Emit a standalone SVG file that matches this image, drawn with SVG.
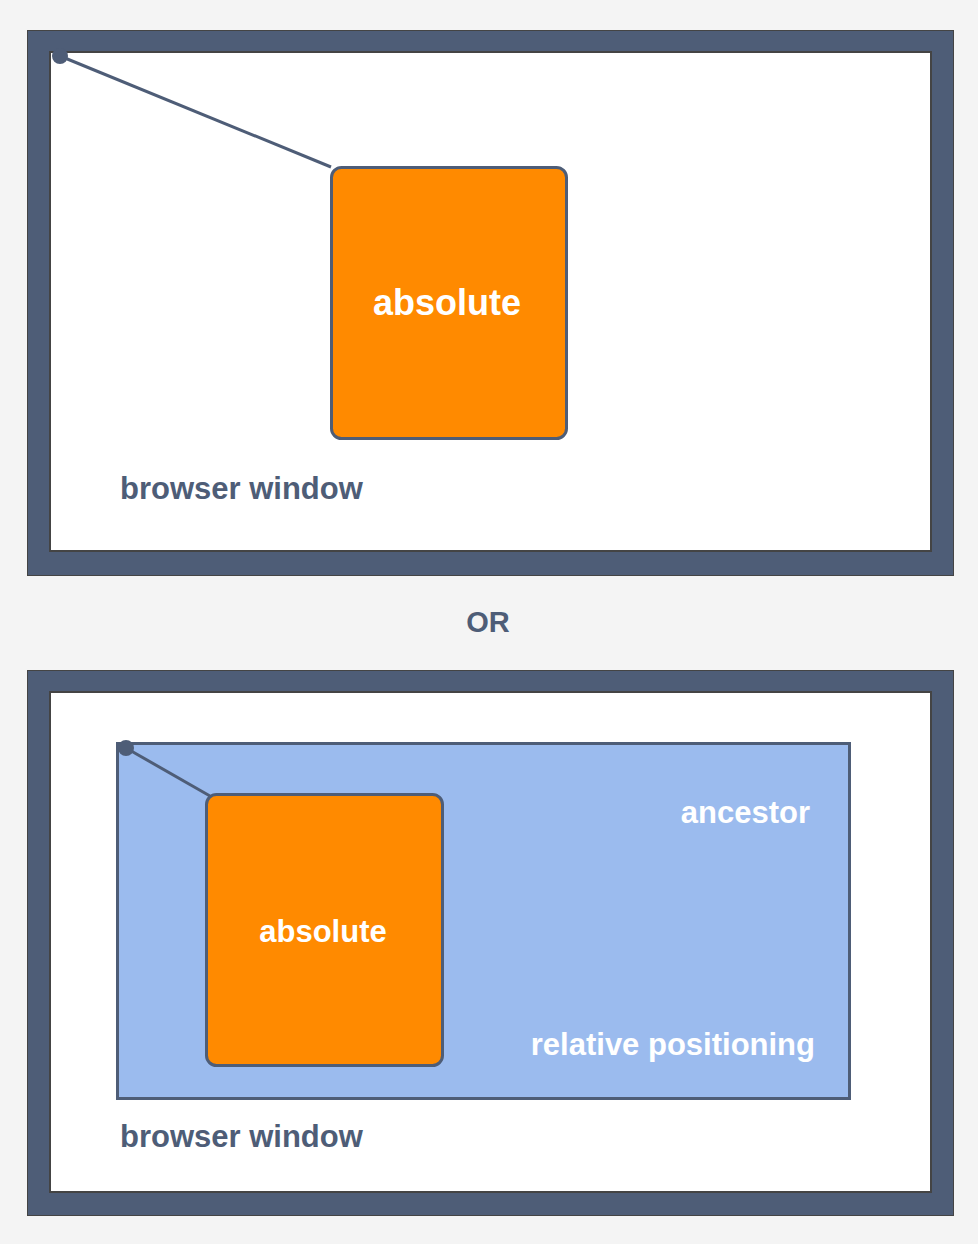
<svg xmlns="http://www.w3.org/2000/svg" width="978" height="1244" viewBox="0 0 978 1244">
<style>
.frame{fill:#4e5d77;stroke:#444;stroke-width:1}
.inner{fill:#fff;stroke:#444;stroke-width:2}
.abs{fill:#ff8a00;stroke:#4e5d77;stroke-width:3}
.anc{fill:#9bbbee;stroke:#4e5d77;stroke-width:3}
.conn{stroke:#4e5d77;stroke-width:3;fill:none}
.dot{fill:#4e5d77}
text{font-family:"Liberation Sans",Arial,sans-serif;font-weight:bold}
.wt{fill:#fff}
.dk{fill:#4e5d77}
</style>
<rect width="978" height="1244" fill="#f4f4f4"/>
<g id="window1">
<rect class="frame" x="27.5" y="30.5" width="926" height="545"/>
<rect class="inner" x="50" y="52" width="881" height="499"/>
<text class="dk" x="120" y="499" font-size="31">browser window</text>
</g>
<g id="absolute1">
<rect class="abs" x="331.5" y="167.5" width="235" height="271" rx="10"/>
<text class="wt" x="447" y="315" font-size="36" text-anchor="middle">absolute</text>
</g>
<g id="or">
<text class="dk" x="488" y="632" font-size="29" text-anchor="middle">OR</text>
</g>
<g id="window2">
<rect class="frame" x="27.5" y="670.5" width="926" height="545"/>
<rect class="inner" x="50" y="692" width="881" height="500"/>
<text class="dk" x="120" y="1147" font-size="31">browser window</text>
</g>
<g id="ancestor">
<rect class="anc" x="117.5" y="743.5" width="732" height="355"/>
<text class="wt" x="810" y="823" font-size="31" text-anchor="end">ancestor</text>
<text class="wt" x="815" y="1055" font-size="31" text-anchor="end">relative positioning</text>
</g>
<g id="absolute2">
<rect class="abs" x="206.5" y="794.5" width="236" height="271" rx="10"/>
<text class="wt" x="323" y="942" font-size="31" text-anchor="middle">absolute</text>
</g>
<g id="connectors">
<line class="conn" x1="60" y1="56" x2="331" y2="167"/>
<circle class="dot" cx="60" cy="56" r="8"/>
<line class="conn" x1="126" y1="748" x2="210" y2="796"/>
<circle class="dot" cx="126" cy="748" r="8"/>
</g>
</svg>
